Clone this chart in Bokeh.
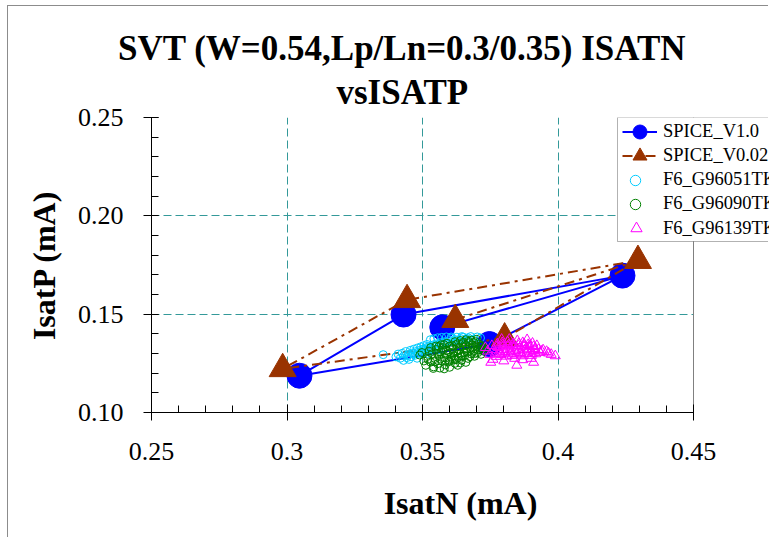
from bokeh.plotting import figure
from bokeh.models import Range1d, FixedTicker, Legend, LegendItem, Title, Grid, BoxAnnotation
from bokeh.embed import file_html
from bokeh.resources import INLINE

# ---- process corners (IsatN, IsatP in mA) ----
corners = ["TT", "FF", "SS", "FS", "SF"]
spice_v10_isatn = [0.3573, 0.4238, 0.3046, 0.3747, 0.3430]
spice_v10_isatp = [0.1433, 0.1696, 0.1187, 0.1348, 0.1498]
spice_v002_isatn = [0.3621, 0.4295, 0.2984, 0.3803, 0.3443]
spice_v002_isatp = [0.1472, 0.1772, 0.1222, 0.1378, 0.1573]
# corner outline: path through the corners
outline_order = ["TT", "FF", "SF", "SS", "FS", "FF"]

# ---- measured lots ----
g96051_isatn = [
    0.3355, 0.3402, 0.3410, 0.3418, 0.3425, 0.3431, 0.3438, 0.3442, 0.3449, 0.3455,
    0.3458, 0.3463, 0.3468, 0.3472, 0.3476, 0.3481, 0.3485, 0.3489, 0.3494, 0.3497,
    0.3501, 0.3505, 0.3509, 0.3513, 0.3517, 0.3521, 0.3525, 0.3529, 0.3534, 0.3538,
    0.3542, 0.3547, 0.3551, 0.3556, 0.3561, 0.3566, 0.3571, 0.3576, 0.3582, 0.3588,
    0.3594, 0.3600, 0.3606, 0.3613, 0.3620, 0.3627, 0.3634, 0.3642, 0.3650, 0.3659,
    0.3668, 0.3678, 0.3690, 0.3702, 0.3714, 0.3450, 0.3480, 0.3520, 0.3560, 0.3430,
    0.3445, 0.3465, 0.3485, 0.3505, 0.3525, 0.3545, 0.3565, 0.3585, 0.3605, 0.3625,
    0.3645, 0.3665,
]
g96051_isatp = [
    0.1294, 0.1283, 0.1297, 0.1276, 0.1301, 0.1288, 0.1310, 0.1279, 0.1295, 0.1316,
    0.1284, 0.1303, 0.1322, 0.1291, 0.1310, 0.1328, 0.1297, 0.1316, 0.1334, 0.1305,
    0.1322, 0.1340, 0.1311, 0.1329, 0.1346, 0.1318, 0.1336, 0.1370, 0.1325, 0.1343,
    0.1375, 0.1331, 0.1349, 0.1380, 0.1338, 0.1355, 0.1382, 0.1345, 0.1360, 0.1384,
    0.1351, 0.1366, 0.1384, 0.1358, 0.1371, 0.1383, 0.1363, 0.1375, 0.1383, 0.1368,
    0.1380, 0.1386, 0.1374, 0.1384, 0.1379, 0.1270, 0.1276, 0.1300, 0.1320, 0.1265,
    0.1290, 0.1298, 0.1306, 0.1315, 0.1326, 0.1336, 0.1346, 0.1356, 0.1378, 0.1366,
    0.1386, 0.1374,
]

g96090_isatn = [
    0.3490, 0.3498, 0.3505, 0.3512, 0.3518, 0.3524, 0.3530, 0.3535, 0.3541, 0.3546,
    0.3551, 0.3556, 0.3560, 0.3564, 0.3568, 0.3572, 0.3576, 0.3580, 0.3584, 0.3588,
    0.3592, 0.3596, 0.3600, 0.3604, 0.3608, 0.3612, 0.3616, 0.3620, 0.3624, 0.3628,
    0.3632, 0.3636, 0.3640, 0.3644, 0.3648, 0.3652, 0.3656, 0.3660, 0.3664, 0.3668,
    0.3672, 0.3676, 0.3680, 0.3684, 0.3688, 0.3692, 0.3696, 0.3700, 0.3704, 0.3708,
    0.3712, 0.3716, 0.3720, 0.3725, 0.3730, 0.3735, 0.3620, 0.3640, 0.3660, 0.3590,
    0.3570, 0.3550, 0.3530, 0.3680, 0.3700, 0.3600, 0.3580, 0.3540, 0.3630, 0.3660,
    0.3555, 0.3565, 0.3575, 0.3585, 0.3595, 0.3605, 0.3615, 0.3625, 0.3635, 0.3645,
    0.3655, 0.3665, 0.3675, 0.3685, 0.3695, 0.3705, 0.3715, 0.3725, 0.3610, 0.3630,
    0.3650, 0.3670, 0.3690, 0.3560, 0.3580, 0.3600, 0.3620, 0.3640, 0.3520, 0.3545,
]
g96090_isatp = [
    0.1292, 0.1305, 0.1262, 0.1240, 0.1285, 0.1312, 0.1256, 0.1298, 0.1232, 0.1275,
    0.1320, 0.1248, 0.1290, 0.1226, 0.1308, 0.1262, 0.1330, 0.1280, 0.1242, 0.1316,
    0.1296, 0.1258, 0.1338, 0.1305, 0.1274, 0.1325, 0.1288, 0.1250, 0.1345, 0.1312,
    0.1280, 0.1333, 0.1298, 0.1266, 0.1350, 0.1320, 0.1290, 0.1340, 0.1306, 0.1275,
    0.1355, 0.1326, 0.1298, 0.1344, 0.1312, 0.1286, 0.1360, 0.1332, 0.1304, 0.1348,
    0.1320, 0.1296, 0.1340, 0.1312, 0.1330, 0.1318, 0.1360, 0.1366, 0.1370, 0.1352,
    0.1345, 0.1338, 0.1330, 0.1368, 0.1372, 0.1230, 0.1222, 0.1224, 0.1240, 0.1255,
    0.1300, 0.1272, 0.1318, 0.1265, 0.1310, 0.1282, 0.1302, 0.1270, 0.1318, 0.1288,
    0.1305, 0.1322, 0.1284, 0.1330, 0.1300, 0.1318, 0.1336, 0.1326, 0.1340, 0.1350,
    0.1357, 0.1362, 0.1355, 0.1335, 0.1345, 0.1262, 0.1268, 0.1252, 0.1270, 0.1258,
]

g96139_isatn = [
    0.3732, 0.3740, 0.3748, 0.3752, 0.3756, 0.3762, 0.3768, 0.3772, 0.3776, 0.3780,
    0.3785, 0.3790, 0.3794, 0.3798, 0.3802, 0.3806, 0.3810, 0.3814, 0.3818, 0.3822,
    0.3826, 0.3830, 0.3834, 0.3838, 0.3842, 0.3846, 0.3848, 0.3850, 0.3854, 0.3858,
    0.3862, 0.3866, 0.3870, 0.3874, 0.3878, 0.3882, 0.3886, 0.3890, 0.3894, 0.3898,
    0.3902, 0.3906, 0.3910, 0.3910, 0.3914, 0.3918, 0.3922, 0.3928, 0.3934, 0.3945,
    0.3958, 0.3975, 0.3990, 0.3800, 0.3870, 0.3820, 0.3760, 0.3840, 0.3900, 0.3792,
    0.3775, 0.3795, 0.3815, 0.3835, 0.3855, 0.3875, 0.3895, 0.3915, 0.3785, 0.3805,
    0.3825, 0.3845, 0.3865, 0.3885, 0.3905, 0.3940, 0.3965,
]
g96139_isatp = [
    0.1330, 0.1312, 0.1295, 0.1255, 0.1340, 0.1320, 0.1302, 0.1285, 0.1348, 0.1330,
    0.1312, 0.1294, 0.1355, 0.1338, 0.1320, 0.1303, 0.1286, 0.1360, 0.1344, 0.1326,
    0.1308, 0.1290, 0.1350, 0.1333, 0.1316, 0.1298, 0.1240, 0.1365, 0.1340, 0.1322,
    0.1304, 0.1288, 0.1355, 0.1336, 0.1318, 0.1300, 0.1370, 0.1345, 0.1326, 0.1308,
    0.1290, 0.1352, 0.1335, 0.1255, 0.1316, 0.1298, 0.1340, 0.1320, 0.1305, 0.1318,
    0.1310, 0.1295, 0.1288, 0.1262, 0.1268, 0.1372, 0.1270, 0.1275, 0.1275, 0.1372,
    0.1335, 0.1345, 0.1338, 0.1342, 0.1350, 0.1348, 0.1340, 0.1325, 0.1300, 0.1310,
    0.1298, 0.1312, 0.1296, 0.1318, 0.1300, 0.1312, 0.1302,
]

series_names = ["SPICE_V1.0", "SPICE_V0.02", "F6_G96051TK", "F6_G96090TK", "F6_G96139TK"]
title_lines = ["SVT (W=0.54,Lp/Ln=0.3/0.35) ISATN", "vsISATP"]
x_ticks = [0.25, 0.30, 0.35, 0.40, 0.45]
x_tick_labels = ["0.25", "0.3", "0.35", "0.4", "0.45"]
y_ticks = [0.10, 0.15, 0.20, 0.25]
y_tick_labels = ["0.10", "0.15", "0.20", "0.25"]

SERIF = "Liberation Serif"
X0, X1, Y0, Y1 = 0.25, 0.45, 0.10, 0.25

# page geometry (canvas starts at page x=8, y=6 because of the chart-area border)
OX, OY = 8, 6
CANVAS_W, CANVAS_H = 769 - OX, 538 - OY
F_LEFT, F_RIGHT, F_TOP, F_BOTTOM = 151, 693, 117, 412
PX_PER_X = (F_RIGHT - F_LEFT) / (X1 - X0)
# the drawing frame runs on to the canvas edge so the legend can overhang the plot area
X_END = X1 + (769 - F_RIGHT) / PX_PER_X

p = figure(width=CANVAS_W, height=CANVAS_H,
           x_range=Range1d(X0, X_END), y_range=Range1d(Y0, Y1),
           output_backend="svg", toolbar_location=None,
           min_border_left=F_LEFT - OX, min_border_right=0,
           min_border_top=F_TOP - OY, min_border_bottom=538 - F_BOTTOM,
           background_fill_color="white", border_fill_color="white")
p.styles = {"margin-left": "7px", "margin-top": "5px",
            "border-left": "1px solid #8c8c8c", "border-top": "1px solid #8c8c8c"}
p.outline_line_color = None

# axes
xa, ya = p.xaxis[0], p.yaxis[0]
xa.bounds = (X0, X1)
xa.ticker = FixedTicker(ticks=x_ticks, minor_ticks=[round(0.25 + 0.01 * i, 2) for i in range(21)])
ya.ticker = FixedTicker(ticks=y_ticks, minor_ticks=[round(0.10 + 0.01 * i, 2) for i in range(16)])
xa.major_label_overrides = {t: s for t, s in zip(x_ticks, x_tick_labels)}
ya.major_label_overrides = {t: s for t, s in zip(y_ticks, y_tick_labels)}
xa.axis_label = "IsatN (mA)"
ya.axis_label = "IsatP (mA)"
for ax in (xa, ya):
    ax.axis_line_color = "black"
    ax.major_tick_line_color = "black"
    ax.minor_tick_line_color = "black"
    ax.major_label_text_font = SERIF
    ax.major_label_text_font_size = "26px"
    ax.major_label_text_color = "black"
    ax.axis_label_text_font = SERIF
    ax.axis_label_text_font_size = "32px"
    ax.axis_label_text_font_style = "bold"
    ax.axis_label_text_color = "black"
xa.major_tick_in, xa.major_tick_out, xa.minor_tick_in, xa.minor_tick_out = 8, 8, 7, 0
ya.major_tick_in, ya.major_tick_out, ya.minor_tick_in, ya.minor_tick_out = 7, 8, 7, 0
xa.major_label_standoff = 22
ya.major_label_standoff = 20
xa.axis_label_standoff = 22
ya.axis_label_standoff = 13

# dashed grid at the inner major ticks, kept inside the plot area
p.xgrid.ticker = FixedTicker(ticks=x_ticks[1:-1])
p.ygrid.ticker = FixedTicker(ticks=y_ticks[1:-1])
p.ygrid.cross_bounds = (X0, X1)
for g in (p.xgrid, p.ygrid):
    g.grid_line_color = "#339999"
    g.grid_line_dash = "8 4"
    g.grid_line_width = 1

# grey plot-area border on the top and right sides
p.add_layout(Grid(dimension=1, ticker=FixedTicker(ticks=[Y1]), cross_bounds=(X0, X1),
                  grid_line_color="#808080", grid_line_width=1))
p.add_layout(Grid(dimension=0, ticker=FixedTicker(ticks=[X1]),
                  grid_line_color="#808080", grid_line_width=1))

# SPICE corner models
idx = [corners.index(c) for c in outline_order]
blue_line = p.line([spice_v10_isatn[i] for i in idx], [spice_v10_isatp[i] for i in idx],
                   line_color="#0000ff", line_width=2)
blue_pts = p.scatter(spice_v10_isatn, spice_v10_isatp, marker="circle", size=25,
                     fill_color="#0000ff", line_color="#0000ff")
brown_line = p.line([spice_v002_isatn[i] for i in idx], [spice_v002_isatp[i] for i in idx],
                    line_color="#993300", line_width=2, line_dash="10 5 3 5")
brown_pts = p.scatter(spice_v002_isatn, spice_v002_isatp, marker="triangle", size=27,
                      fill_color="#993300", line_color="#993300")

# measured lots
cyan_pts = p.scatter(g96051_isatn, g96051_isatp, marker="circle", size=8,
                     fill_color=None, line_color="#00ccff", line_width=1)
green_pts = p.scatter(g96090_isatn, g96090_isatp, marker="circle", size=8,
                      fill_color=None, line_color="#008000", line_width=1)
mag_pts = p.scatter(g96139_isatn, g96139_isatp, marker="triangle", size=10,
                    fill_color=None, line_color="#ff00ff", line_width=1)

# legend: a framed white box with one row per series
LEG_LEFT, LEG_BOTTOM = 617, 241
p.add_layout(BoxAnnotation(left=X0 + (LEG_LEFT - F_LEFT) / PX_PER_X, right=X_END + 1,
                           top=Y1,
                           bottom=Y0 + (F_BOTTOM - LEG_BOTTOM) * (Y1 - Y0) / (F_BOTTOM - F_TOP),
                           fill_color="white", fill_alpha=1.0,
                           line_color="black", line_width=1, level="annotation"))
row_renderers = [[blue_line, blue_pts], [brown_line, brown_pts], [cyan_pts], [green_pts], [mag_pts]]
row_glyph = [35, 35, 26, 26, 28]
for i, (name, rends, gsz) in enumerate(zip(series_names, row_renderers, row_glyph)):
    centre = 131 + 24.3 * i
    leg = Legend(items=[LegendItem(label=name, renderers=rends)],
                 location=(622 - F_LEFT, F_BOTTOM - (centre + gsz / 2)))
    leg.glyph_width = gsz
    leg.glyph_height = gsz
    leg.spacing = 0
    leg.padding = 0
    leg.margin = 0
    leg.label_standoff = 663 - 622 - gsz
    leg.label_text_font = SERIF
    leg.label_text_font_size = "18.5px"
    leg.label_text_color = "black"
    leg.border_line_color = None
    leg.background_fill_alpha = 0
    p.add_layout(leg)

# two-line chart title, centred over the plot area
title_widths = [571, 134]
for line, w, standoff in reversed(list(zip(title_lines, title_widths, (-5, 11)))):
    p.add_layout(Title(text=line, align="left", offset=403 - w / 2 - F_LEFT, standoff=standoff,
                       text_font=SERIF, text_font_size="35px", text_font_style="bold",
                       text_color="black"), "above")

open("out.html", "w").write(file_html(p, INLINE))
